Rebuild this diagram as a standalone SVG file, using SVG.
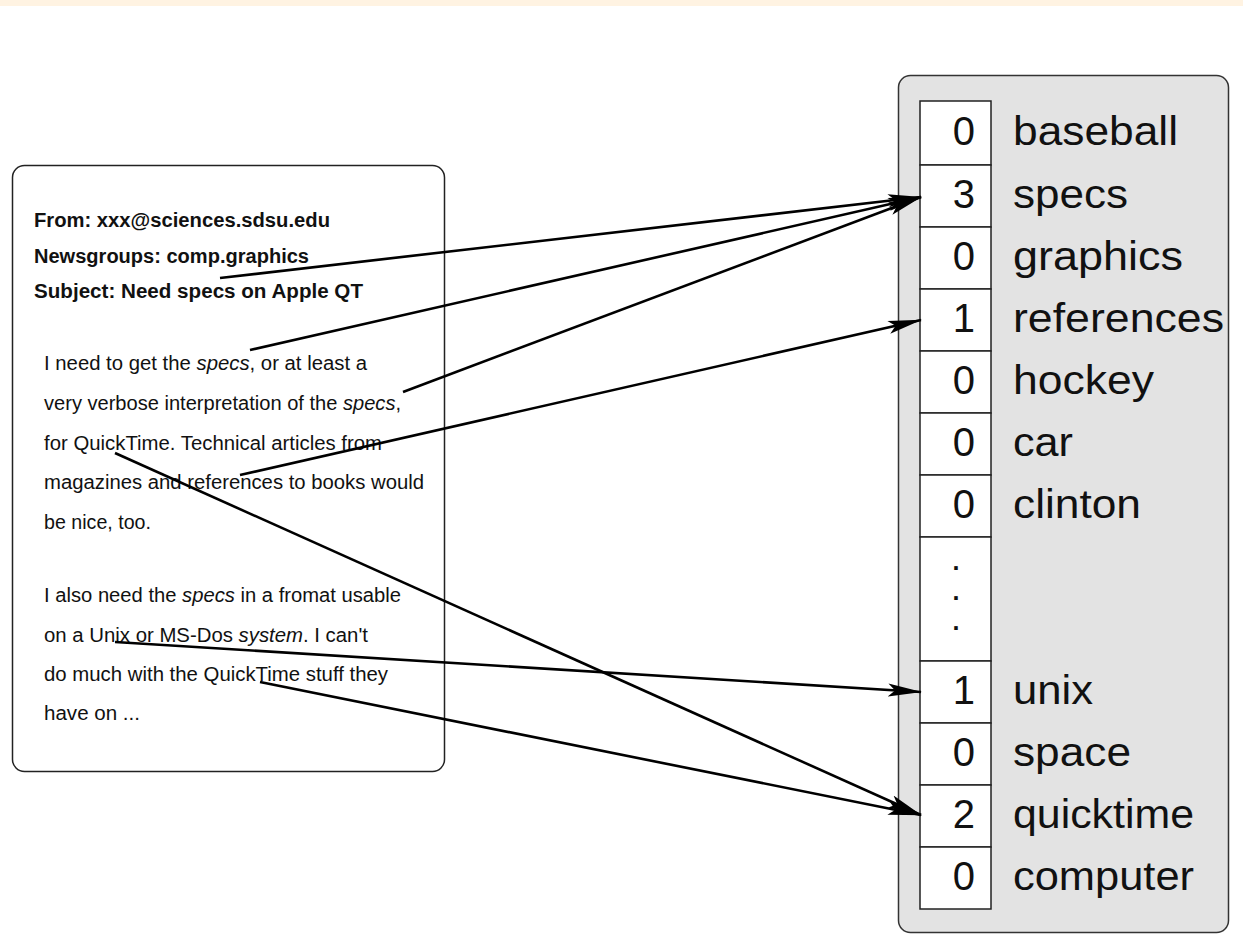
<svg xmlns="http://www.w3.org/2000/svg" width="1243" height="950" viewBox="0 0 1243 950">
  <style>
    .hdr { font-family: "Liberation Sans", Arial, sans-serif; font-weight: bold; font-size: 19.5px; fill: #111; }
    .body { font-family: "Liberation Sans", Arial, sans-serif; font-size: 20px; fill: #111; }
    .it { font-style: italic; }
    .num { font-family: "Liberation Sans", Arial, sans-serif; font-size: 40px; fill: #111; text-anchor: end; }
    .lbl { font-family: "Liberation Sans", Arial, sans-serif; font-size: 40px; fill: #111; }
    .dot { font-family: "Liberation Sans", Arial, sans-serif; font-size: 25px; font-weight: bold; fill: #111; text-anchor: middle; }
    .cell { fill: #ffffff; stroke: #222; stroke-width: 1.5; }
    .conn { fill: none; stroke: #000; stroke-width: 2.6; marker-end: url(#arrow); }
  </style>
  <defs>
    <marker id="arrow" markerUnits="userSpaceOnUse" markerWidth="34" markerHeight="14" viewBox="0 0 34 14" refX="33" refY="7" orient="auto">
      <path d="M0,0.5 L34,7 L0,13.5 L7,7 Z" fill="#000"/>
    </marker>
  </defs>

  <rect x="0" y="0" width="1243" height="950" fill="#ffffff"/>
  <rect x="0" y="0" width="1243" height="6" fill="#fff3e2"/>

  <!-- news article -->
  <g id="article">
    <rect x="12.5" y="165.5" width="432" height="606" rx="12" fill="#ffffff" stroke="#222" stroke-width="1.5"/>
    <text class="hdr" x="34" y="227" textLength="296" lengthAdjust="spacingAndGlyphs">From: xxx@sciences.sdsu.edu</text>
    <text class="hdr" x="34" y="263" textLength="275" lengthAdjust="spacingAndGlyphs">Newsgroups: comp.graphics</text>
    <text class="hdr" x="34" y="298" textLength="329" lengthAdjust="spacingAndGlyphs">Subject: Need specs on Apple QT</text>

    <text class="body" x="44" y="370" textLength="323" lengthAdjust="spacingAndGlyphs">I need to get the <tspan class="it">specs</tspan>, or at least a</text>
    <text class="body" x="44" y="410" textLength="357" lengthAdjust="spacingAndGlyphs">very verbose interpretation of the <tspan class="it">specs</tspan>,</text>
    <text class="body" x="44" y="449.5" textLength="338" lengthAdjust="spacingAndGlyphs">for QuickTime. Technical articles from</text>
    <text class="body" x="44" y="489" textLength="380" lengthAdjust="spacingAndGlyphs">magazines and references to books would</text>
    <text class="body" x="44" y="528.5" textLength="107" lengthAdjust="spacingAndGlyphs">be nice, too.</text>

    <text class="body" x="44" y="602" textLength="357" lengthAdjust="spacingAndGlyphs">I also need the <tspan class="it">specs</tspan> in a fromat usable</text>
    <text class="body" x="44" y="641.5" textLength="324" lengthAdjust="spacingAndGlyphs">on a Unix or MS-Dos <tspan class="it">system</tspan>. I can't</text>
    <text class="body" x="44" y="680.5" textLength="344" lengthAdjust="spacingAndGlyphs">do much with the QuickTime stuff they</text>
    <text class="body" x="44" y="720" textLength="96" lengthAdjust="spacingAndGlyphs">have on ...</text>
  </g>

  <!-- word count vector -->
  <g id="vector">
    <rect x="898.5" y="75.5" width="330" height="857" rx="12" fill="#e3e3e3" stroke="#333" stroke-width="1.5"/>

    <g id="row-baseball">
      <rect class="cell" x="920" y="101" width="71" height="64"/>
      <text class="num" x="975" y="145">0</text>
      <text class="lbl" x="1013" y="145" textLength="165" lengthAdjust="spacingAndGlyphs">baseball</text>
    </g>
    <g id="row-specs">
      <rect class="cell" x="920" y="165" width="71" height="62"/>
      <text class="num" x="975" y="208">3</text>
      <text class="lbl" x="1013" y="208" textLength="115" lengthAdjust="spacingAndGlyphs">specs</text>
    </g>
    <g id="row-graphics">
      <rect class="cell" x="920" y="227" width="71" height="62"/>
      <text class="num" x="975" y="270">0</text>
      <text class="lbl" x="1013" y="270" textLength="170" lengthAdjust="spacingAndGlyphs">graphics</text>
    </g>
    <g id="row-references">
      <rect class="cell" x="920" y="289" width="71" height="62"/>
      <text class="num" x="975" y="332">1</text>
      <text class="lbl" x="1013" y="332" textLength="211" lengthAdjust="spacingAndGlyphs">references</text>
    </g>
    <g id="row-hockey">
      <rect class="cell" x="920" y="351" width="71" height="62"/>
      <text class="num" x="975" y="394">0</text>
      <text class="lbl" x="1013" y="394" textLength="141" lengthAdjust="spacingAndGlyphs">hockey</text>
    </g>
    <g id="row-car">
      <rect class="cell" x="920" y="413" width="71" height="62"/>
      <text class="num" x="975" y="456">0</text>
      <text class="lbl" x="1013" y="456" textLength="60" lengthAdjust="spacingAndGlyphs">car</text>
    </g>
    <g id="row-clinton">
      <rect class="cell" x="920" y="475" width="71" height="62"/>
      <text class="num" x="975" y="518">0</text>
      <text class="lbl" x="1013" y="518" textLength="128" lengthAdjust="spacingAndGlyphs">clinton</text>
    </g>
    <g id="row-ellipsis">
      <rect class="cell" x="920" y="537" width="71" height="124"/>
      <text class="dot" x="956" y="570">.</text>
      <text class="dot" x="956" y="600">.</text>
      <text class="dot" x="956" y="630">.</text>
    </g>
    <g id="row-unix">
      <rect class="cell" x="920" y="661" width="71" height="62"/>
      <text class="num" x="975" y="704">1</text>
      <text class="lbl" x="1013" y="704" textLength="80" lengthAdjust="spacingAndGlyphs">unix</text>
    </g>
    <g id="row-space">
      <rect class="cell" x="920" y="723" width="71" height="62"/>
      <text class="num" x="975" y="766">0</text>
      <text class="lbl" x="1013" y="766" textLength="118" lengthAdjust="spacingAndGlyphs">space</text>
    </g>
    <g id="row-quicktime">
      <rect class="cell" x="920" y="785" width="71" height="62"/>
      <text class="num" x="975" y="828">2</text>
      <text class="lbl" x="1013" y="828" textLength="181" lengthAdjust="spacingAndGlyphs">quicktime</text>
    </g>
    <g id="row-computer">
      <rect class="cell" x="920" y="847" width="71" height="62"/>
      <text class="num" x="975" y="890">0</text>
      <text class="lbl" x="1013" y="890" textLength="181" lengthAdjust="spacingAndGlyphs">computer</text>
    </g>
  </g>

  <!-- word occurrences to counters -->
  <g id="connectors">
    <line class="conn" x1="220" y1="278" x2="921" y2="197"/>
    <line class="conn" x1="250" y1="350" x2="921" y2="197"/>
    <line class="conn" x1="403" y1="392" x2="921" y2="197"/>
    <line class="conn" x1="240" y1="475" x2="921" y2="320"/>
    <line class="conn" x1="115" y1="453" x2="921" y2="815"/>
    <line class="conn" x1="115" y1="642" x2="921" y2="692"/>
    <line class="conn" x1="260" y1="682" x2="921" y2="815"/>
  </g>
</svg>
